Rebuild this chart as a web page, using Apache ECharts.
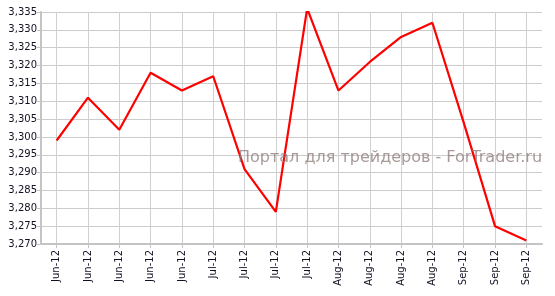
<!DOCTYPE html>
<html>
<head>
<meta charset="utf-8">
<script src="https://cdn.jsdelivr.net/npm/echarts@6/dist/echarts.min.js"></script>
<style>html,body{margin:0;padding:0;background:#fff;}#c{width:555px;height:296px;}</style>
</head>
<body>
<div id="c"></div>
<script>
const categories = ['Jun-12','Jun-12','Jun-12','Jun-12','Jun-12','Jul-12','Jul-12','Jul-12','Jul-12','Aug-12','Aug-12','Aug-12','Aug-12','Sep-12','Sep-12','Sep-12'];
const values = [3.299, 3.311, 3.302, 3.318, 3.313, 3.317, 3.291, 3.279, 3.336, 3.313, 3.321, 3.328, 3.332, 3.304, 3.275, 3.271];
const yMin = 3.270, yMax = 3.335, yStep = 0.005;
const watermark = 'Портал для трейдеров - ForTrader.ru';

const chart = echarts.init(document.getElementById('c'));
chart.setOption({
  animation: false,
  grid: { left: 41, right: 13, top: 12, bottom: 52 },
  xAxis: {
    type: 'category',
    data: categories,
    boundaryGap: true,
    axisLine: { show: true, lineStyle: { color: '#c4c4c4', width: 2 } },
    axisTick: { show: true, alignWithLabel: true, length: 4, lineStyle: { color: '#c4c4c4' } },
    axisLabel: { interval: 0, rotate: 90, fontFamily: 'DejaVu Sans', fontSize: 10, color: '#111122', margin: 6 },
    splitLine: { show: true, alignWithLabel: true, lineStyle: { color: '#d0d0d0', width: 1 } }
  },
  yAxis: {
    type: 'value',
    min: yMin, max: yMax, interval: yStep,
    axisLine: { show: true, lineStyle: { color: '#c4c4c4', width: 2 } },
    axisTick: { show: true, length: 4, lineStyle: { color: '#c4c4c4' } },
    axisLabel: { fontFamily: 'DejaVu Sans', fontSize: 10, color: '#111122', margin: 4,
      formatter: v => v.toFixed(3).replace('.', ',') },
    splitLine: { show: true, lineStyle: { color: '#cccccc', width: 1 } }
  },
  graphic: [{
    type: 'text', left: 238, top: 150, z: 10,
    style: { text: watermark, font: '16px "DejaVu Sans"', fill: 'rgba(140,120,120,0.75)' }
  }],
  series: [{
    type: 'line', data: values, showSymbol: false, symbol: 'none',
    lineStyle: { color: '#ff0000', width: 2.2 }, z: 5
  }]
});
</script>
</body>
</html>
